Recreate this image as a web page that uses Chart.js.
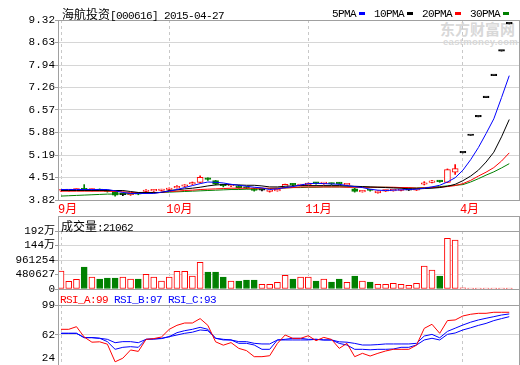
<!DOCTYPE html>
<html><head><meta charset="utf-8">
<script src="https://cdn.jsdelivr.net/npm/chart.js@4.4.1/dist/chart.umd.min.js"></script>
<style>
html,body{margin:0;padding:0;background:#fff;}
#wrap{position:relative;width:520px;height:365px;overflow:hidden;background:#fff;}
canvas{position:absolute;left:0;}
.t{position:absolute;white-space:nowrap;height:16px;line-height:16px;font-family:'Liberation Mono',monospace;font-size:11px;letter-spacing:-0.6px;color:#000;}
.cj{font-family:'Noto Sans CJK SC';font-size:12px;letter-spacing:0;}
.sq{display:inline-block;width:6px;height:3px;vertical-align:middle;margin-left:3px;margin-right:9px;position:relative;top:-1px;}
.wm{position:absolute;white-space:nowrap;color:#d8d8d8;font-weight:bold;}
</style></head><body>
<div id="wrap">
  <div class="wm" style="left:440px;top:19px;font-family:'Noto Sans CJK SC';font-size:15px;line-height:20px;">东方财富网</div>
  <div class="wm" style="left:443px;top:37px;font-family:'Liberation Sans';font-size:9.5px;line-height:10px;letter-spacing:0.3px;">eastmoney.com</div>
  <canvas id="c1" width="520" height="216" style="top:0"></canvas>
  <canvas id="c2" width="520" height="84" style="top:216px"></canvas>
  <canvas id="c3" width="520" height="90" style="top:289px"></canvas>
  <div class="t" style="left:62px;top:6px"><span class="cj">海航投资</span>[000616] 2015-04-27</div>
  <div class="t" style="left:332px;top:6px">5PMA<span class="sq" style="background:#0000ff"></span>10PMA<span class="sq" style="background:#000"></span>20PMA<span class="sq" style="background:#ff0000"></span>30PMA<span class="sq" style="background:#008000"></span></div>
  <div class="t" style="left:61px;top:218px"><span class="cj">成交量</span>:21062</div>
  <div class="t" style="left:60px;top:292px"><span style="color:#ff0000">RSI_A:99</span> <span style="color:#0000ff">RSI_B:97</span> <span style="color:#0000ff">RSI_C:93</span></div>
</div>
<script>
// ---------- data ----------
const monthTicks = [0, 14, 32, 52];
const monthLabels = ['9月', '10月', '11月', '4月'];
const priceTicks = [3.82, 4.51, 5.19, 5.88, 6.57, 7.26, 7.94, 8.63, 9.32];
const volTicks = [0, 480627, 961254, 1441881, 1922508];
const volTickLabels = ['0', '480627', '961254', '144万', '192万'];
const rsiTicks = [24, 62, 99];

const opens  = [4.10,4.11,4.12,4.15,4.12,4.14,4.11,4.08,3.98,3.98,4.02,4.08,4.10,4.11,4.14,4.19,4.24,4.31,4.36,4.47,4.41,4.28,4.25,4.25,4.21,4.17,4.12,4.08,4.10,4.20,4.30,4.26,4.29,4.34,4.32,4.33,4.33,4.28,4.16,4.07,4.12,4.04,4.09,4.10,4.11,4.12,4.12,4.30,4.36,4.40,4.36,4.67,5.26,5.79,6.36,6.95,7.62,8.37,9.20];
const highs  = [4.13,4.13,4.16,4.29,4.15,4.16,4.13,4.09,4.01,4.02,4.04,4.14,4.14,4.15,4.19,4.26,4.29,4.37,4.56,4.50,4.42,4.30,4.29,4.27,4.23,4.18,4.14,4.11,4.15,4.31,4.32,4.30,4.34,4.36,4.35,4.34,4.36,4.31,4.18,4.11,4.14,4.10,4.12,4.13,4.13,4.13,4.15,4.38,4.42,4.42,4.77,4.90,5.26,5.79,6.36,6.95,7.62,8.37,9.20];
const lows   = [4.08,4.09,4.11,4.11,4.10,4.10,4.06,3.94,3.95,3.96,3.98,4.06,4.08,4.09,4.13,4.18,4.22,4.29,4.35,4.42,4.28,4.22,4.23,4.18,4.16,4.09,4.10,4.06,4.09,4.19,4.25,4.25,4.28,4.30,4.30,4.29,4.30,4.26,4.06,4.06,4.09,4.03,4.08,4.09,4.10,4.11,4.11,4.28,4.34,4.36,4.35,4.60,5.26,5.79,6.36,6.95,7.62,8.37,9.20];
const closes = [4.12,4.12,4.14,4.13,4.14,4.11,4.08,3.97,3.98,4.00,4.00,4.12,4.12,4.13,4.17,4.24,4.26,4.34,4.51,4.45,4.30,4.26,4.27,4.20,4.18,4.11,4.12,4.09,4.14,4.30,4.28,4.28,4.31,4.33,4.34,4.31,4.32,4.30,4.08,4.11,4.11,4.10,4.11,4.12,4.12,4.12,4.14,4.34,4.39,4.38,4.75,4.78,5.26,5.79,6.36,6.95,7.62,8.37,9.20];
const volumes = [597000,255000,321000,729000,398000,331000,365000,365000,398000,331000,331000,487000,398000,265000,398000,587000,587000,431000,885000,563000,563000,398000,265000,265000,298000,298000,156000,156000,222000,454000,331000,398000,398000,265000,331000,232000,331000,222000,431000,265000,232000,156000,156000,189000,156000,123000,189000,762000,630000,431000,1680000,1620000,35000,28000,24000,22000,23000,20000,21062];

const ma5  = [4.14,4.14,4.14,4.14,4.14,4.14,4.14,4.10,4.05,4.02,4.02,4.02,4.02,4.06,4.09,4.14,4.20,4.26,4.32,4.37,4.36,4.34,4.30,4.27,4.24,4.21,4.19,4.14,4.16,4.20,4.23,4.28,4.32,4.33,4.32,4.31,4.30,4.26,4.23,4.20,4.15,4.12,4.11,4.12,4.13,4.14,4.15,4.18,4.22,4.27,4.37,4.50,4.73,5.05,5.42,5.85,6.30,6.95,7.62];
const ma10 = [4.11,4.11,4.11,4.11,4.11,4.11,4.11,4.11,4.11,4.08,4.05,4.05,4.05,4.05,4.11,4.13,4.16,4.18,4.21,4.25,4.28,4.29,4.29,4.28,4.27,4.27,4.25,4.22,4.22,4.24,4.25,4.26,4.26,4.26,4.26,4.26,4.26,4.25,4.24,4.23,4.22,4.21,4.20,4.19,4.18,4.16,4.16,4.17,4.18,4.20,4.24,4.30,4.41,4.55,4.73,4.98,5.28,5.75,6.28];
const ma20 = [4.09,4.09,4.09,4.09,4.09,4.09,4.09,4.08,4.07,4.05,4.04,4.04,4.04,4.05,4.08,4.09,4.11,4.12,4.14,4.15,4.16,4.17,4.18,4.18,4.18,4.18,4.18,4.18,4.18,4.19,4.20,4.22,4.22,4.22,4.22,4.22,4.22,4.21,4.21,4.21,4.21,4.21,4.21,4.21,4.20,4.20,4.18,4.19,4.20,4.21,4.23,4.26,4.32,4.42,4.55,4.67,4.81,5.01,5.26];
const ma30 = [3.94,3.95,3.96,3.97,3.98,3.99,4.00,4.00,4.01,4.01,4.02,4.03,4.04,4.05,4.06,4.07,4.08,4.09,4.10,4.11,4.12,4.13,4.14,4.14,4.15,4.15,4.16,4.17,4.18,4.19,4.20,4.20,4.21,4.21,4.22,4.22,4.22,4.22,4.22,4.22,4.21,4.21,4.21,4.20,4.20,4.19,4.19,4.20,4.21,4.23,4.25,4.27,4.29,4.37,4.47,4.58,4.68,4.80,4.93];

const rsiA = [68.6,68.6,71.9,59,52.5,53,50,28,32.5,42.8,41,56,57,59,68.6,73.6,76.5,76.5,82,73.6,53,48.8,52,44.8,42,34.4,34.4,35.6,51,61.5,57.3,57.3,60.6,54.4,58.5,56,44.8,51,34.4,38.6,35.2,38.6,41.5,43.6,43.6,43.6,48.8,69.8,74.9,63.6,79.5,80.3,85.3,87.4,88.6,88.6,89.9,89.9,89.9];
const rsiB = [63.6,63.6,63.6,58.2,58.2,57.4,56.1,51.9,53.2,53.2,51.9,56.1,56.5,57.4,59.4,64.4,66.9,68.6,71.1,68.6,57.4,56.1,55.3,53.2,53.2,51.1,50.3,50.3,55.3,56.1,57.4,57.4,56.1,56.1,55.3,55.3,53,52.5,51,49,49,49.5,50.3,50.3,50.3,50.3,51.1,60.2,62.3,58,66,70,74,77.5,80.3,82.4,84.4,86.5,87.8];
const rsiC = [63.6,63.6,63.6,58.2,58.2,57.4,53.2,43.6,46.1,46.9,46.1,56.1,56.5,57,59.4,61.5,63.6,65,67.8,66.9,57.4,55.3,55.3,51.1,51.1,49,43.6,43.6,55.3,55.3,55.3,55.3,55.3,56.1,55.3,55.3,51,49,43.6,43.6,43,43.6,43.6,44,46.1,46.1,49,55.3,57.4,55.3,62.3,64,67.8,70.5,73.5,76,79.5,82,84.4];

// ---------- helpers ----------
const RED = '#ff0000', GREEN = '#008000', BLUE = '#0000ff', BLACK = '#000000';
const dirs = closes.map((c, i) => c > opens[i] ? 1 : (c < opens[i] ? -1 : 0));
const candleColor = dirs.map(d => d > 0 ? RED : (d < 0 ? GREEN : BLACK));
const candleFill = dirs.map(d => d > 0 ? '#ffffff' : (d < 0 ? GREEN : BLACK));
const volColor = dirs.map(d => d >= 0 ? RED : GREEN);
const volFill = dirs.map(d => d >= 0 ? '#ffffff' : GREEN);
const pts = arr => arr.map((v, i) => ({x: i, y: v}));
const TICKFONT = {family: "'Liberation Mono','Noto Sans CJK SC'", size: 11};
const X_MIN = -0.39, X_MAX = 59.26;

const framePlugin = {
  id: 'frame',
  afterDraw(chart, args, opts) {
    const {ctx, chartArea: a} = chart;
    const l = Math.round(a.left) + 0.5, r = Math.round(a.right) - 0.5;
    const top = (opts.boxTop != null ? opts.boxTop : Math.round(a.top)) + 0.5;
    const bot = Math.round(a.bottom) + 0.5;
    ctx.save();
    ctx.strokeStyle = '#a0a0a0';
    ctx.lineWidth = 1;
    ctx.strokeRect(l, top, r - l + 1, bot - top);
    if (opts.sep) {
      ctx.beginPath();
      ctx.moveTo(l, Math.round(a.top) + 0.5);
      ctx.lineTo(r + 1, Math.round(a.top) + 0.5);
      ctx.stroke();
    }
    ctx.restore();
  }
};

function xScale(showLabels) {
  return {
    type: 'linear', min: X_MIN, max: X_MAX, offset: false,
    afterBuildTicks: s => { s.ticks = monthTicks.map(v => ({value: v})); },
    afterFit: s => { s.height = showLabels ? 16 : 0; },
    grid: {display: true, offset: false, color: '#c8c8c8', lineWidth: 1, drawTicks: false},
    border: {display: false, dash: [3, 3]},
    ticks: {
      display: showLabels, autoSkip: false, maxRotation: 0, minRotation: 0, align: 'start',
      padding: 3, labelOffset: -3, color: RED, font: {family: "'Liberation Mono','Noto Sans CJK SC'", size: 12},
      callback: v => { const k = monthTicks.indexOf(v); return k >= 0 ? monthLabels[k] : ''; }
    }
  };
}
function yScale(min, max, tickVals, fmt) {
  return {
    type: 'linear', position: 'left', min: min, max: max, beginAtZero: false,
    afterBuildTicks: s => { s.ticks = tickVals.map(v => ({value: v})); },
    afterFit: s => { s.width = 58; },
    grid: {color: '#d6d6d6', lineWidth: 1, drawTicks: true, tickLength: 3, tickColor: '#a0a0a0'},
    border: {display: true, color: '#a0a0a0'},
    ticks: {padding: 0, color: '#000', font: TICKFONT, autoSkip: false, callback: fmt}
  };
}
const common = {
  responsive: false, animation: false, devicePixelRatio: 1,
  plugins: {legend: {display: false}, tooltip: {enabled: false}}
};

// ---------- main price chart ----------
new Chart(document.getElementById('c1'), {
  type: 'bar',
  data: {
    datasets: [
      {type: 'line', label: '5PMA', data: pts(ma5), borderColor: BLUE, borderWidth: 1, pointRadius: 0, order: 0},
      {type: 'line', label: '10PMA', data: pts(ma10), borderColor: BLACK, borderWidth: 1, pointRadius: 0, order: 1},
      {type: 'line', label: '20PMA', data: pts(ma20), borderColor: RED, borderWidth: 1, pointRadius: 0, order: 2},
      {type: 'line', label: '30PMA', data: pts(ma30), borderColor: GREEN, borderWidth: 1, pointRadius: 0, order: 3},
      {type: 'bar', label: 'body', data: opens.map((o, i) => ({x: i, y: [Math.min(o, closes[i]), Math.max(o, closes[i])]})),
        backgroundColor: candleFill, borderColor: candleColor, borderWidth: 1, borderSkipped: false,
        barThickness: 6, minBarLength: 1.5, grouped: false, order: 5},
      {type: 'bar', label: 'wick', data: lows.map((l, i) => ({x: i, y: [l, highs[i]]})),
        backgroundColor: candleColor, borderWidth: 0, barThickness: 1, minBarLength: 0, grouped: false, order: 6}
    ]
  },
  options: Object.assign({}, common, {
    layout: {padding: {top: 20, right: 1, left: 0, bottom: 0}},
    scales: {
      x: xScale(true),
      y: yScale(3.82, 9.32, priceTicks, v => v.toFixed(2))
    },
    plugins: Object.assign({}, common.plugins, {frame: {}})
  }),
  plugins: [framePlugin]
});

// ---------- volume chart ----------
new Chart(document.getElementById('c2'), {
  type: 'bar',
  data: {
    datasets: [{
      label: '成交量', data: pts(volumes), backgroundColor: volFill, borderColor: volColor,
      borderWidth: 1, borderSkipped: false, barThickness: 6, minBarLength: 1, grouped: false
    }]
  },
  options: Object.assign({}, common, {
    layout: {padding: {top: 15, right: 1, left: 0, bottom: 11}},
    scales: {
      x: xScale(false),
      y: yScale(0, 1922508, volTicks, v => { const k = volTicks.indexOf(v); return k >= 0 ? volTickLabels[k] : ''; })
    },
    plugins: Object.assign({}, common.plugins, {frame: {boxTop: 0, sep: true}})
  }),
  plugins: [framePlugin]
});

// ---------- RSI chart ----------
new Chart(document.getElementById('c3'), {
  type: 'line',
  data: {
    datasets: [
      {label: 'RSI_A', data: pts(rsiA), borderColor: RED, borderWidth: 1, pointRadius: 0},
      {label: 'RSI_B', data: pts(rsiB), borderColor: BLUE, borderWidth: 1, pointRadius: 0},
      {label: 'RSI_C', data: pts(rsiC), borderColor: BLUE, borderWidth: 1, pointRadius: 0}
    ]
  },
  options: Object.assign({}, common, {
    layout: {padding: {top: 16, right: 1, left: 0, bottom: 14}},
    scales: {
      x: xScale(false),
      y: yScale(24, 99, rsiTicks, v => (v === rsiTicks[0] ? [String(v), ''] : String(v)))
    },
    plugins: Object.assign({}, common.plugins, {frame: {boxTop: 0, sep: true}})
  }),
  plugins: [framePlugin]
});
</script>
</body></html>
